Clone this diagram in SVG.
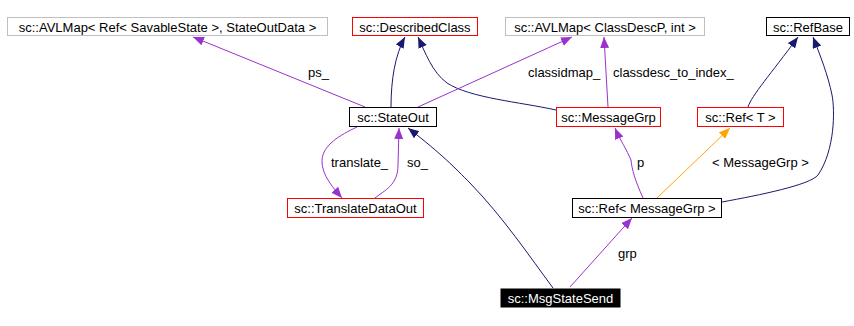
<svg xmlns="http://www.w3.org/2000/svg" width="854" height="326" viewBox="0 0 854 326">
<style>
text{font-family:"Liberation Sans",Arial,sans-serif;font-size:13px;fill:#000}
.n{text-anchor:middle}
rect{fill:#fff;stroke-width:1}
.blk{stroke:#000}
.red{stroke:#ff0000}
.gry{stroke:#bfbfbf}
.e{fill:none;stroke-width:1}
.nv{stroke:#191970}
.pu{stroke:#9a32cd}
.or{stroke:#ffa500}
</style>
<defs>
<marker id="an" markerUnits="userSpaceOnUse" markerWidth="12" markerHeight="10" refX="11" refY="4.5" orient="auto"><path d="M0,0 L11,4.5 L0,9 z" fill="#191970"/></marker>
<marker id="ap" markerUnits="userSpaceOnUse" markerWidth="12" markerHeight="10" refX="11" refY="4.5" orient="auto"><path d="M0,0 L11,4.5 L0,9 z" fill="#9a32cd"/></marker>
<marker id="ao" markerUnits="userSpaceOnUse" markerWidth="12" markerHeight="10" refX="11" refY="4.5" orient="auto"><path d="M0,0 L11,4.5 L0,9 z" fill="#ffa500"/></marker>
</defs>
<g id="edges">
<path class="e pu" d="M365,107 L193,37" marker-end="url(#ap)"/>
<path class="e nv" d="M391,107 C391,80 395,55 405,37" marker-end="url(#an)"/>
<path class="e nv" d="M556,110 C520,102 470,98 447,83 C432,72 425,52 418,37" marker-end="url(#an)"/>
<path class="e pu" d="M418,107 L572,37" marker-end="url(#ap)"/>
<path class="e pu" d="M608,107 L604,37" marker-end="url(#ap)"/>
<path class="e nv" d="M748,107 C752,95 770,75 798,37" marker-end="url(#an)"/>
<path class="e nv" d="M722,202 C760,195 810,185 818,175 C835,150 835,110 832,95 C828,75 820,55 813,37" marker-end="url(#an)"/>
<path class="e or" d="M657,198 L730,128" marker-end="url(#ao)"/>
<path class="e pu" d="M643,198 C635,180 632,170 631,160 C627,150 620,140 615,128" marker-end="url(#ap)"/>
<path class="e pu" d="M357,127 C340,135 323,145 322,160 C321,175 335,190 342,198" marker-end="url(#ap)"/>
<path class="e pu" d="M375,198 C385,190 398,185 398,165 L399,128" marker-end="url(#ap)"/>
<path class="e nv" d="M553,288 C530,257 503,217 470,183 C455,168 443,155 408,128" marker-end="url(#an)"/>
<path class="e pu" d="M570,287 L632,218" marker-end="url(#ap)"/>
<text x="308" y="77">ps_</text>
<text x="528" y="77">classidmap_</text>
<text x="613" y="77">classdesc_to_index_</text>
<text x="331" y="167">translate_</text>
<text x="407" y="167">so_</text>
<text x="637" y="167">p</text>
<text x="712" y="167">&lt; MessageGrp &gt;</text>
<text x="618" y="258">grp</text>
</g>
<g id="AVLMapRef"><rect class="gry" x="7.5" y="17.5" width="320" height="18"/><text class="n" x="167.5" y="31.5">sc::AVLMap&lt; Ref&lt; SavableState &gt;, StateOutData &gt;</text></g>
<g id="DescribedClass"><rect class="red" x="352.5" y="17.5" width="125" height="18"/><text class="n" x="415" y="31.5">sc::DescribedClass</text></g>
<g id="AVLMapClassDescP"><rect class="gry" x="505.5" y="17.5" width="199" height="18"/><text class="n" x="605" y="31.5">sc::AVLMap&lt; ClassDescP, int &gt;</text></g>
<g id="RefBase"><rect class="blk" x="766.5" y="17.5" width="83" height="18"/><text class="n" x="808" y="31.5">sc::RefBase</text></g>
<g id="StateOut"><rect class="blk" x="349.5" y="107.5" width="87" height="19"/><text class="n" x="393" y="122">sc::StateOut</text></g>
<g id="MessageGrp"><rect class="red" x="556.5" y="107.5" width="104" height="19"/><text class="n" x="608.5" y="122">sc::MessageGrp</text></g>
<g id="RefT"><rect class="red" x="697.5" y="107.5" width="86" height="19"/><text class="n" x="740.5" y="122">sc::Ref&lt; T &gt;</text></g>
<g id="TranslateDataOut"><rect class="red" x="287.5" y="198.5" width="136" height="19"/><text class="n" x="355.5" y="213">sc::TranslateDataOut</text></g>
<g id="RefMessageGrp"><rect class="blk" x="572.5" y="198.5" width="149" height="19"/><text class="n" x="647" y="213">sc::Ref&lt; MessageGrp &gt;</text></g>
<g id="MsgStateSend"><rect x="501" y="289" width="119" height="18" style="fill:#000;stroke:#000"/><text class="n" x="560.5" y="303" style="fill:#fff">sc::MsgStateSend</text></g>
</svg>
